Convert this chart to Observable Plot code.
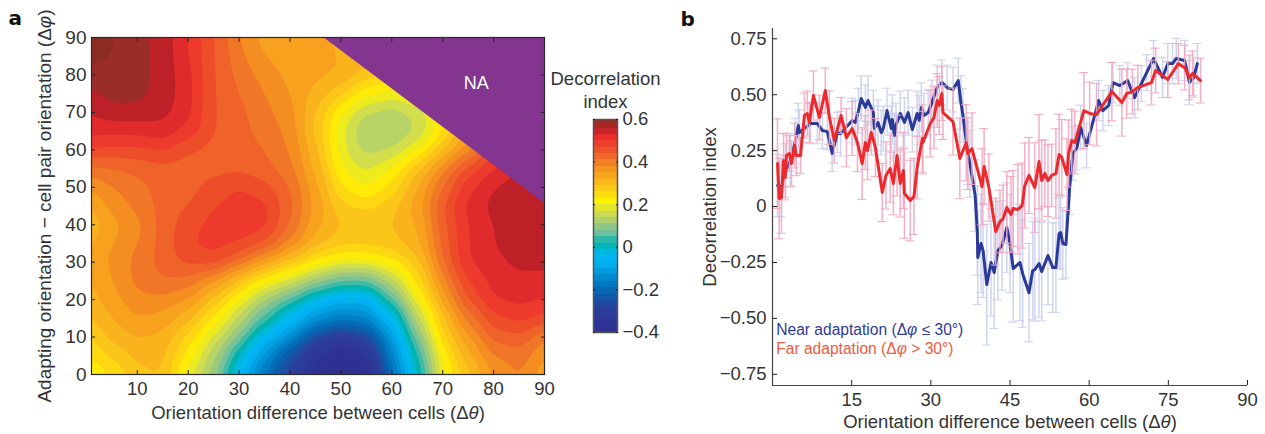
<!DOCTYPE html>
<html><head><meta charset="utf-8">
<script src="https://cdn.jsdelivr.net/npm/d3@7"></script>
<script src="https://cdn.jsdelivr.net/npm/@observablehq/plot@0.6"></script>
<style>
html,body{margin:0;padding:0;background:#fff}
#root{position:relative;width:1265px;height:434px;overflow:hidden;font-family:"Liberation Sans",Arial,sans-serif}
#root>div,#root>svg{position:absolute}
svg{overflow:visible;background:transparent!important}
</style></head><body><div id="root"></div>
<script>
// Panel a: decorrelation index read on a 5-degree grid
const gridX = [0,5,10,15,20,25,30,35,40,45,50,55,60,65,70,75,80,85,90];
const gridY = [0,5,10,15,20,25,30,35,40,45,50,55,60,65,70,75,80,85,90];
const gridRows = [
[.21,.24,.29,.30,.19,.10,-.05,-.18,-.29,-.38,-.42,-.40,-.20,0,.20,.29,.36,.39,.34],
[.23,.28,.31,.31,.23,.13,0,-.13,-.25,-.36,-.41,-.37,-.16,.03,.22,.32,.39,.41,.36],
[.26,.31,.33,.32,.26,.17,.08,-.05,-.14,-.27,-.33,-.28,-.12,.08,.26,.35,.43,.44,.39],
[.29,.33,.36,.35,.31,.23,.14,.05,-.05,-.13,-.17,-.15,-.05,.14,.29,.40,.47,.49,.47],
[.31,.35,.38,.38,.36,.29,.21,.12,.05,-.04,-.08,-.08,.05,.20,.34,.45,.51,.52,.51],
[.32,.36,.40,.42,.41,.36,.29,.22,.17,.11,.06,.06,.14,.25,.38,.48,.52,.53,.53],
[.32,.37,.40,.43,.46,.47,.42,.35,.29,.23,.20,.20,.23,.29,.42,.51,.53,.55,.55],
[.32,.36,.39,.43,.48,.49,.48,.45,.38,.31,.28,.28,.29,.32,.43,.51,.54,.56,.56],
[.30,.35,.38,.43,.47,.49,.50,.49,.42,.34,.30,.30,.30,.33,.44,.51,.54,.56,.56],
[.32,.37,.40,.43,.45,.48,.50,.49,.43,.35,.28,.26,.29,.35,.45,.52,.55,.56,.56],
[.36,.39,.41,.43,.44,.46,.48,.46,.42,.34,.24,.21,.25,.33,.42,.50,.54,.56,.56],
[.41,.42,.43,.44,.44,.44,.44,.43,.40,.32,.21,.17,.21,.29,.38,.46,.51,.53,.55],
[.48,.47,.47,.48,.45,.44,.44,.42,.39,.31,.19,.14,.15,.21,.30,.38,.47,.52,.54],
[.52,.52,.52,.53,.50,.45,.43,.41,.38,.29,.19,.12,.12,.15,.24,.33,.40,.45,.50],
[.54,.56,.56,.55,.52,.45,.43,.40,.37,.30,.21,.15,.13,.16,.22,.28,.35,.40,.45],
[.56,.58,.58,.56,.52,.45,.42,.39,.36,.32,.28,.22,.20,.22,.25,.28,.32,.36,.40],
[.59,.59,.58,.56,.52,.45,.41,.38,.35,.34,.33,.29,.27,.27,.28,.30,.32,.34,.36],
[.61,.60,.58,.56,.51,.45,.40,.36,.34,.33,.33,.32,.31,.31,.31,.32,.33,.34,.35],
[.63,.60,.58,.56,.51,.45,.39,.35,.33,.33,.33,.33,.33,.33,.33,.33,.33,.34,.35]
];
const naX = [46.6, 90];
const naY = [90, 45.7];
const xTicksA = [10,20,30,40,50,60,70,80,90];
const yTicksA = [0,10,20,30,40,50,60,70,80,90];
const colorStops = [-.40,-.30,-.25,-.20,-.15,-.10,-.05,0,.05,.10,.15,.20,.25,.30,.35,.40,.45,.50,.54,.57,.60];
const colorHexes = ["#2e3192","#2c3f9c","#0f59a8","#0072bc","#0090d4","#00aeef","#00b9f2","#00b3ae","#6dbfa0","#a6cc78","#d2de4c","#fff200","#fdd117","#f9b31c","#f5951f","#f0702a","#ee4d2a","#ec2d2e","#bd2127","#9a2d28","#8a2c20"];
const thresholds = d3.range(-.45,.62,.03);
const barTicks = [-.4,-.2,0,.2,.4,.6];
const barBands = d3.range(-.4,.6,.03);

// Panel b: line vertices and error half-widths
const nearX = [.95,1.7,2.5,3.4,4.35,4.9,5.1,7.2,8.5,9.45,10.4,11.3,12.3,12.9,15.1,15.7,16.3,16.8,17.6,18.1,19.1,19.3,20,20.6,21,21.7,22.5,22.7,23.1,23.4,24.2,25,25.7,26.5,27.4,27.8,28.2,28.7,29.5,30.2,31.2,32.1,33.1,34.2,35.2,35.7,36.1,37,37.4,38.4,38.8,38.9,39.5,39.9,40.6,41.4,42,42.7,43.5,44.4,45,45.6,46.9,47.4,48.6,49.3,49.7,50.5,51,52.2,53.1,53.7,54.3,54.6,55,55.6,56.3,56.9,57.7,58.4,59.5,61.8,62.6,63.7,64.5,65.8,67.3,68.6,69.9,70.9,72.2,73.9,74.9,75.8,76.5,78.1,79,79.8,80.5];
const nearY = [.094,.085,.161,.206,.295,.362,.331,.371,.371,.34,.335,.237,.331,.326,.385,.376,.429,.483,.443,.474,.42,.349,.376,.331,.349,.429,.349,.389,.318,.362,.416,.376,.42,.344,.416,.385,.443,.407,.42,.465,.532,.555,.532,.523,.563,.465,.407,.237,.192,.049,-.107,-.228,-.165,-.197,-.349,-.25,-.295,-.197,-.174,-.094,-.165,-.277,-.25,-.3,-.385,-.286,-.282,-.255,-.291,-.219,-.273,-.273,-.121,-.116,-.165,-.17,.085,.237,.264,.353,.273,.474,.429,.452,.554,.541,.563,.487,.55,.599,.662,.577,.639,.639,.662,.653,.555,.577,.639];
const nearErr = [.14,.13,.12,.12,.1,.1,.1,.09,.09,.08,.08,.08,.09,.1,.1,.1,.1,.1,.1,.11,.1,.1,.1,.1,.1,.1,.1,.11,.1,.1,.1,.11,.1,.1,.1,.11,.11,.1,.1,.1,.1,.1,.1,.1,.1,.12,.12,.14,.15,.16,.2,.21,.22,.21,.27,.24,.25,.22,.2,.2,.22,.24,.26,.24,.22,.22,.23,.24,.22,.22,.2,.2,.16,.16,.16,.15,.12,.12,.1,.1,.1,.09,.09,.09,.09,.09,.08,.09,.08,.08,.08,.09,.09,.09,.09,.09,.1,.09,.09];
const farX = [.95,1.27,1.7,2.1,2.4,2.65,3.2,3.6,4.2,4.5,5.3,6.05,6.6,7,7.75,8.9,10,10.8,11.7,13,14,15.1,16.1,17,17.6,18,18.7,19.5,20.8,21.5,22.3,22.9,23.6,24.2,24.8,25,26.1,26.8,27.4,28.4,28.5,29.9,30.6,31.2,31.6,32.1,32.3,34.2,35.5,36.7,37,37.8,39.7,40.1,41,42.3,43.1,43.7,44.4,45.2,45.6,46.5,47.3,47.8,48.6,49.7,50.5,51,51.6,52.2,52.9,53.7,54.3,54.8,55.8,56.1,56.7,57.3,59,60.1,61.4,64.3,66.2,67.1,68.2,69.2,71.8,72.6,74.9,76.9,78.1,79,79.6,81.1];
const farY = [.192,.036,.04,.206,.13,.228,.237,.192,.273,.228,.228,.407,.416,.376,.496,.398,.519,.398,.295,.407,.308,.349,.286,.192,.286,.25,.331,.264,.063,.139,.17,.103,.228,.103,.161,.058,.027,.045,.174,.304,.286,.371,.398,.474,.452,.505,.42,.38,.215,.286,.237,.259,.089,.179,.085,-.112,-.067,-.054,-.004,-.036,-.009,-.013,.004,.094,.139,.085,.201,.116,.148,.116,.139,.148,.233,.219,.143,.237,.295,.286,.429,.416,.411,.514,.465,.505,.514,.532,.554,.608,.568,.639,.621,.577,.595,.563];
const farErr = [.2,.18,.16,.12,.1,.1,.08,.1,.1,.09,.08,.1,.1,.09,.11,.1,.1,.12,.1,.08,.13,.12,.13,.16,.12,.13,.1,.13,.13,.15,.15,.14,.18,.15,.17,.2,.18,.17,.14,.15,.14,.15,.14,.12,.13,.12,.12,.15,.18,.17,.16,.16,.17,.17,.15,.15,.14,.15,.16,.17,.17,.2,.19,.19,.17,.2,.21,.18,.15,.16,.14,.2,.18,.17,.16,.15,.14,.14,.17,.14,.14,.13,.15,.11,.1,.1,.1,.1,.08,.09,.1,.1,.1,.1];
const xTicksB = [15,30,45,60,75,90];
const yTicksB = [-.75,-.5,-.25,0,.25,.5,.75];

const ink = "#333";
const minus = s => s.replace("-", "\u2212");
const fontA = {fontFamily:'"Liberation Sans",Arial,sans-serif', fontSize:"19px", color:ink};
const blank = () => "";

const colorScale = {type:"linear", domain:colorStops, range:colorHexes, clamp:true, interpolate:"rgb"};

const gridData = gridRows.flatMap((row,j)=>row.map((v,i)=>({x:gridX[i],y:gridY[j],v})));
const naData = naX.map((x,i)=>({x,y:naY[i]}));

const panelA = Plot.plot({
  width:555,height:434,marginLeft:91,marginRight:11,marginTop:37,marginBottom:60,
  style:fontA,
  x:{domain:[1,90]},y:{domain:[0,90]},color:colorScale,
  marks:[
    Plot.contour(gridData,{x:"x",y:"y",fill:"v",thresholds,pixelSize:2,blur:4}),
    Plot.areaY(naData,{x:"x",y1:"y",y2:90,fill:"#84358f"}),
    Plot.text(["NA"],{x:76.6,y:77.7,fill:"#fff",fontSize:18}),
    Plot.frame({stroke:"#2b2b2b",strokeWidth:1.2}),
    Plot.axisX({ticks:xTicksA,tickSize:-4,tickPadding:11,fontSize:18.5,tickFormat:d=>d,stroke:"#222",label:"Orientation difference between cells (\u0394\u03b8)",labelAnchor:"center",labelArrow:"none",labelOffset:44}),
    Plot.axisX({anchor:"top",ticks:xTicksA,tickSize:-4,tickFormat:blank,label:null,stroke:"#222"}),
    Plot.axisY({ticks:yTicksA,tickSize:-4,tickPadding:9,fontSize:19,tickFormat:d=>d,stroke:"#222",label:"Adapting orientation \u2212 cell pair orientation (\u0394\u03c6)",labelAnchor:"center",labelArrow:"none",labelOffset:54}),
    Plot.axisY({anchor:"right",ticks:yTicksA,tickSize:-4,tickFormat:blank,label:null,stroke:"#222"}),
    Plot.text(["a"],{frameAnchor:"top-left",dx:-83,dy:-27,fontFamily:"DejaVu Sans",fontWeight:"bold",fontSize:20,fill:"#111",textAnchor:"start"})
  ]
});
panelA.style.left="0px";panelA.style.top="0px";

const panelBar = Plot.plot({
  width:130,height:362,marginLeft:48,marginRight:58,marginTop:119,marginBottom:30,
  style:fontA,
  x:{domain:[0,1],axis:null},y:{domain:[-.4,.6]},color:colorScale,
  marks:[
    Plot.rect(barBands,{x1:0,x2:1,y1:d=>d,y2:d=>Math.min(.6,d+.03),fill:d=>d,shapeRendering:"crispEdges"}),
    Plot.frame({stroke:"#555",strokeWidth:1.5}),
    Plot.axisY({anchor:"right",ticks:barTicks,tickSize:-2,tickPadding:7,fontSize:18.5,label:null,stroke:"#222",tickFormat:d=>minus(String(+d.toFixed(1)))}),
    Plot.axisY({anchor:"left",ticks:barTicks,tickSize:-2,tickFormat:blank,label:null,stroke:"#222"}),
    Plot.text(["Decorrelation\nindex"],{x:.5,y:.6,dy:-30,fontSize:18.5,lineHeight:1.22,fill:ink,lineAnchor:"middle"})
  ]
});
panelBar.style.left="545px";panelBar.style.top="0px";

const near = nearX.map((x,i)=>({x,y:nearY[i],e:nearErr[i]}));
const far = farX.map((x,i)=>({x,y:farY[i],e:farErr[i]}));
const capW = .85;
const errMarks = (rows,color,op)=>[
  Plot.ruleX(rows,{x:"x",y1:d=>d.y-d.e,y2:d=>d.y+d.e,stroke:color,strokeWidth:1.5,strokeOpacity:op}),
  Plot.ruleY(rows,{y:d=>d.y+d.e,x1:d=>d.x-capW,x2:d=>d.x+capW,stroke:color,strokeWidth:1.1,strokeOpacity:op}),
  Plot.ruleY(rows,{y:d=>d.y-d.e,x1:d=>d.x-capW,x2:d=>d.x+capW,stroke:color,strokeWidth:1.1,strokeOpacity:op})
];
const panelB = Plot.plot({
  width:585,height:434,marginLeft:92,marginRight:18,marginTop:28,marginBottom:49,
  style:fontA,
  x:{domain:[0,90]},y:{domain:[-.8,.796]},
  marks:[
    ...errMarks(near,"#c9cfeb",.9),
    Plot.line(near,{x:"x",y:"y",stroke:"#2b3a98",strokeWidth:3,curve:"linear"}),
    ...errMarks(far,"#f2a6c0",.9),
    Plot.line(far,{x:"x",y:"y",stroke:"#ec2a2d",strokeWidth:3,curve:"linear"}),
    Plot.ruleX([0],{stroke:"#444",strokeWidth:1.2}),
    Plot.ruleY([-.8],{stroke:"#444",strokeWidth:1.2}),
    Plot.axisX({ticks:xTicksB,tickSize:-5,tickPadding:12,fontSize:18.5,stroke:"#222",tickFormat:d=>d,label:"Orientation difference between cells (\u0394\u03b8)",labelAnchor:"center",labelArrow:"none",labelOffset:42}),
    Plot.axisY({ticks:yTicksB,tickSize:-5,tickPadding:11,fontSize:18.5,stroke:"#222",tickFormat:d=>d===0?"0":minus(d.toFixed(2)),label:"Decorrelation index",labelAnchor:"center",labelArrow:"none",labelOffset:70}),
    Plot.text(["Near adaptation (\u0394\u03c6 \u2264 30\u00b0)"],{x:.7,y:-.55,fill:"#2e3a94",fontSize:15.6,textAnchor:"start"}),
    Plot.text(["Far adaptation (\u0394\u03c6 > 30\u00b0)"],{x:.7,y:-.635,fill:"#f15a3c",fontSize:15.6,textAnchor:"start"}),
    Plot.text(["b"],{frameAnchor:"top-left",dx:-92,dy:-17,fontFamily:"DejaVu Sans",fontWeight:"bold",fontSize:20,fill:"#111",textAnchor:"start"})
  ]
});
panelB.style.left="680px";panelB.style.top="0px";

const root=document.getElementById("root");
[panelA,panelBar,panelB].forEach(p=>root.appendChild(p));
// Greek symbols in axis titles and legends are set italic, as in the original
root.querySelectorAll("text,tspan").forEach(t=>{
  if(t.children.length===0 && /[\u03b8\u03c6]/.test(t.textContent)){
    t.innerHTML=t.textContent.replace(/>/g,"&gt;").replace(/([\u03b8\u03c6])/g,'<tspan font-style="italic">$1</tspan>');
  }
});
</script></body></html>
